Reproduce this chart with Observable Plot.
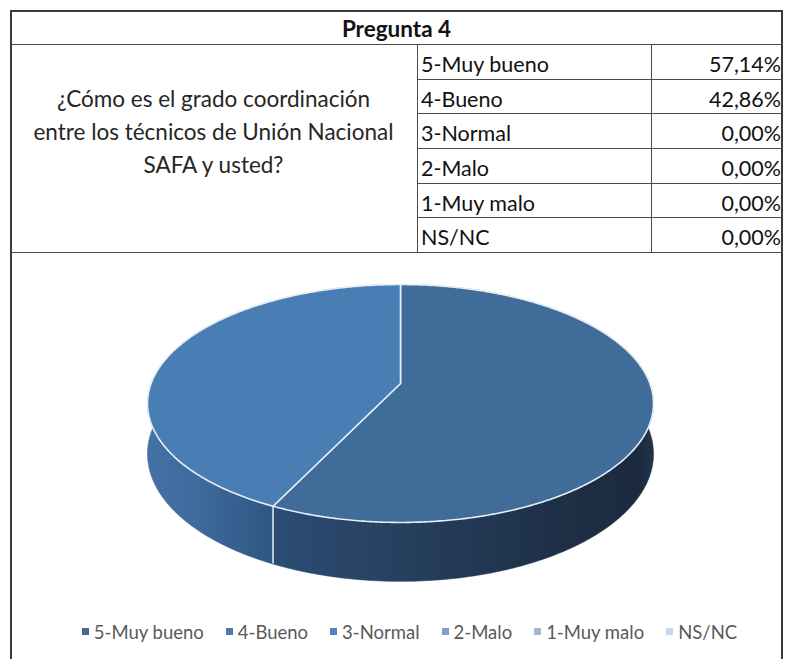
<!DOCTYPE html>
<html>
<head>
<meta charset="utf-8">
<script src="https://cdn.jsdelivr.net/npm/d3@7"></script>
<script src="https://cdn.jsdelivr.net/npm/@observablehq/plot@0.6"></script>
<style>
  html, body { margin: 0; padding: 0; background: #fff; }
  body { width: 788px; height: 659px; overflow: hidden; position: relative; font-family: Lato, "Open Sans", sans-serif; }
  #frame { position: absolute; left: 10px; top: 10px; width: 773px; height: 700px; border: 2px solid #3a3a3a; box-sizing: border-box; }
  .cell { position: absolute; box-sizing: border-box; color: #111; font-size: 21.5px; white-space: nowrap; }
  .hline { position: absolute; height: 0; border-top: 1px solid #4a4a4a; }
  .vline { position: absolute; width: 0; border-left: 1px solid #4a4a4a; }
  #chart { position: absolute; left: 12px; top: 253px; }
  #legend { position: absolute; left: 12px; top: 615px; width: 769px; }
  #legend > div { justify-content: center; font-family: Lato, "Open Sans", sans-serif !important; font-size: 18.5px !important; color: #595959; margin: 0 !important; padding-left: 48px; }
  #legend span { margin-right: 22px !important; }
  #legend span > svg { margin-right: 5px !important; }
</style>
</head>
<body>
<div id="frame"></div>
<div id="table"></div>
<div id="chart"></div>
<div id="legend"></div>
<script>
// ---------------- data ----------------
const title = "Pregunta 4";
const questionLines = ["¿Cómo es el grado coordinación", "entre los técnicos de Unión Nacional", "SAFA y usted?"];
const categories = ["5-Muy bueno", "4-Bueno", "3-Normal", "2-Malo", "1-Muy malo", "NS/NC"];
const percents = [57.14, 42.86, 0, 0, 0, 0];

// ---------------- styles ----------------
const topColors = ["#3f6c99", "#487eb4", "#4f81bd", "#7b9fd0", "#a5b8d6", "#c8d6e8"];
const legendColors = ["#44698f", "#4d7bad", "#5183bf", "#7b9fd0", "#a3b5d2", "#c8d6e8"];
const wallStops = [
  [[0, "#3a6592"], [0.25, "#2c4c73"], [0.5, "#26405f"], [0.8, "#1e3047"], [0.97, "#1b2a3e"], [1, "#23364d"]],
  [[0, "#4472a6"], [0.1, "#3e6a9c"], [0.25, "#305682"], [1, "#305682"]]
];
const fmt = v => v.toFixed(2).replace(".", ",") + "%";

// ---------------- table (HTML) ----------------
const T = document.getElementById("table");
function add(cls, style, text) {
  const d = document.createElement("div");
  d.className = cls;
  Object.assign(d.style, style);
  if (text != null) d.textContent = text;
  T.appendChild(d);
  return d;
}
const left = 10, right = 783, titleBottom = 44, tableBottom = 252;
const col1 = 417, col2 = 651;
const rowH = (tableBottom - titleBottom) / categories.length;

add("cell", {left: left + "px", top: "13px", width: (right - left) + "px", height: (titleBottom - 12) + "px",
  lineHeight: (titleBottom - 12) + "px", textAlign: "center", fontWeight: "bold", fontSize: "22.5px"}, title);
add("hline", {left: left + "px", top: titleBottom + "px", width: (right - left) + "px"});
add("hline", {left: left + "px", top: tableBottom + "px", width: (right - left) + "px"});
add("vline", {left: col1 + "px", top: titleBottom + "px", height: (tableBottom - titleBottom) + "px"});
add("vline", {left: col2 + "px", top: titleBottom + "px", height: (tableBottom - titleBottom) + "px"});
const q = add("cell", {left: left + "px", top: "82px", width: (col1 - left) + "px", lineHeight: "33px",
  textAlign: "center", color: "#262626", fontSize: "22.5px"});
q.innerHTML = questionLines.map(s => s.replace(/&/g, "&amp;")).join("<br>");
categories.forEach((c, i) => {
  const top = titleBottom + i * rowH;
  if (i > 0) add("hline", {left: col1 + "px", top: top + "px", width: (right - col1) + "px"});
  add("cell", {left: (col1 + 4) + "px", top: (top + 2) + "px", height: rowH + "px", lineHeight: (rowH + 3) + "px"}, c);
  add("cell", {left: col2 + "px", top: (top + 2) + "px", width: (right - col2 - 2) + "px", height: rowH + "px",
    lineHeight: (rowH + 3) + "px", textAlign: "right"}, fmt(percents[i]));
});

// ---------------- 3D pie (Plot) ----------------
const rows = categories.map((c, i) => ({category: c, value: percents[i]}));
const slices = d3.pie().sort(null).value(d => d.value)(rows).filter(s => s.value > 0);
const P = -0.168;      // perspective factor
const DEPTH = 0.424;   // pie thickness (in y units)
function proj(a) {
  const u = Math.sin(a), v = -Math.cos(a), w = 1 + P * v;
  return {x: u / w, y: v / w, w};
}
function angles(a0, a1) {
  const n = Math.max(2, Math.ceil((a1 - a0) / (Math.PI / 360)));
  return d3.range(n + 1).map(i => a0 + (a1 - a0) * i / n);
}
const topPts = slices.flatMap(s => [
  {category: s.data.category, x: 0, y: 0},
  ...angles(s.startAngle, s.endAngle).map(a => ({category: s.data.category, ...proj(a)}))
]);
const walls = slices.map(s => {
  const arc = angles(s.startAngle, s.endAngle).map(proj);
  return [
    ...arc.map(p => ({x: p.x, y: p.y})),
    ...arc.slice().reverse().map(p => ({x: p.x, y: p.y + DEPTH / p.w}))
  ];
});
const seps = slices.map(s => proj(s.startAngle)).filter(p => p.y > 0.15)
  .map(p => ({x: p.x, y1: p.y, y2: p.y + DEPTH / p.w}));

const cx = 400 - 12, cy = 383 - 253, RX = 249.4, RY = 115.6;
const svg = Plot.plot({
  width: 769,
  height: 360,
  margin: 0,
  style: {background: "transparent", overflow: "visible"},
  x: {domain: [-1, 1], range: [cx - RX, cx + RX], axis: null},
  y: {domain: [-1, 1], range: [cy - RY, cy + RY], axis: null},
  color: {domain: categories, range: topColors},
  marks: [
    ...walls.map((w, i) => Plot.line(w, {x: "x", y: "y", fill: `url(#wall-${i})`, stroke: `url(#wall-${i})`, strokeWidth: 0.6, curve: "linear-closed"})),
    Plot.ruleX(seps, {x: "x", y1: "y1", y2: "y2", stroke: "#d8e4f0", strokeWidth: 1.6}),
    Plot.line(topPts, {x: "x", y: "y", z: "category", fill: "category", stroke: "#e6eef6", strokeWidth: 1.6, strokeLinejoin: "round", curve: "linear-closed"})
  ]
});
const xs = svg.scale("x");
const defs = d3.select(svg).insert("defs", ":first-child");
wallStops.forEach((stops, i) => {
  const g = defs.append("linearGradient").attr("id", `wall-${i}`)
    .attr("gradientUnits", "userSpaceOnUse")
    .attr("x1", xs.apply(-1.02)).attr("x2", xs.apply(1.02)).attr("y1", 0).attr("y2", 0);
  stops.forEach(([o, c]) => g.append("stop").attr("offset", o).attr("stop-color", c));
});
document.getElementById("chart").appendChild(svg);

// ---------------- legend (Plot) ----------------
const legend = Plot.legend({
  color: {type: "ordinal", domain: categories, range: legendColors},
  legend: "swatches",
  swatchSize: 7
});
document.getElementById("legend").appendChild(legend);
</script>
</body>
</html>
